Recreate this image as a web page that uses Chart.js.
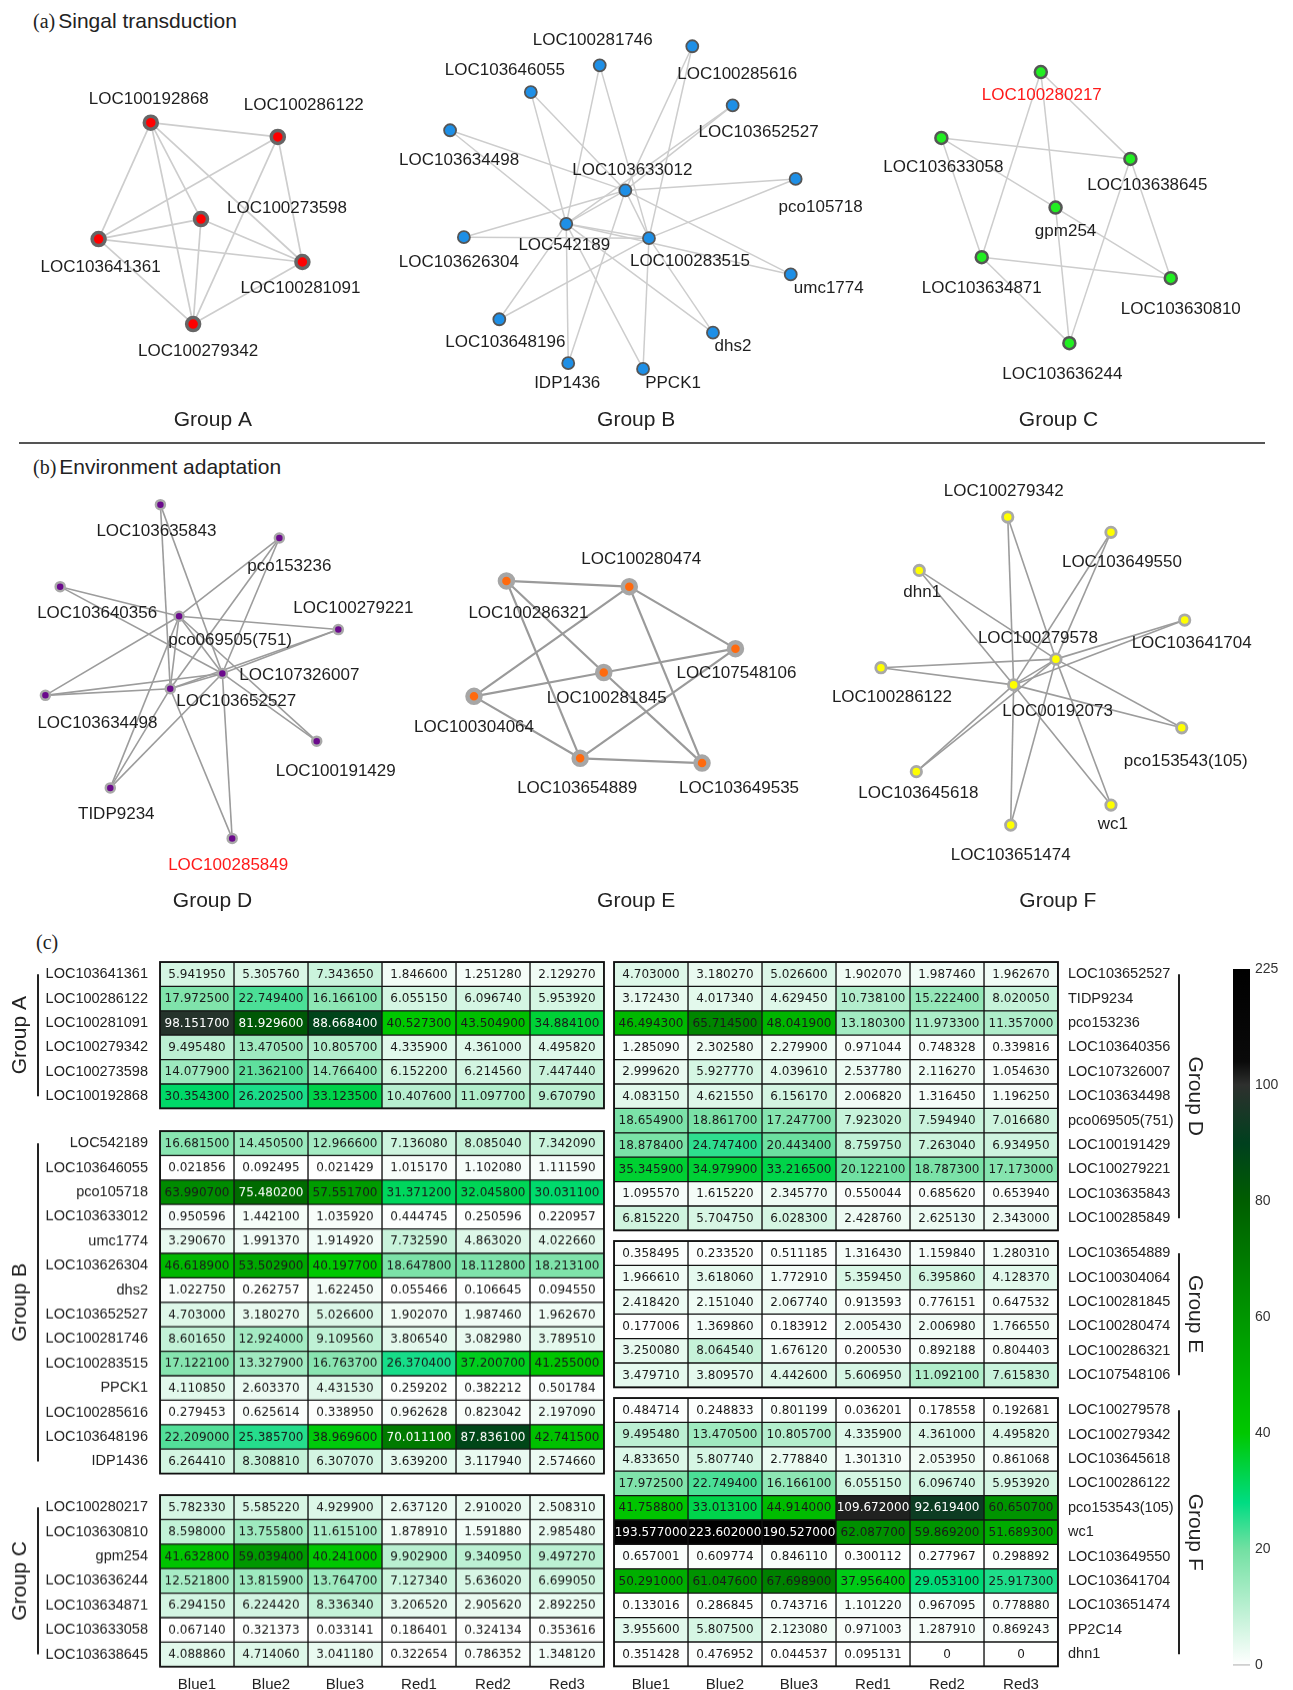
<!DOCTYPE html>
<html>
<head>
<meta charset="utf-8">
<script src="https://cdn.jsdelivr.net/npm/chart.js@4.4.1/dist/chart.umd.min.js"></script>
<style>
  body { margin: 0; background: #fff; }
  #page { position: relative; width: 1293px; height: 1690px; overflow: hidden; font-family: "Liberation Sans", Arial, sans-serif; color: #222; }
  .box { position: absolute; }
  .ttl { position: absolute; font-size: 21px; white-space: nowrap; line-height: 1; }
  .ttl span { font-family: "Liberation Serif", serif; font-size: 20px; margin-right: 3px; }
  #sep { position: absolute; left: 19px; top: 442px; width: 1246px; height: 2px; background: #555; }
</style>
</head>
<body>
<div id="page">
  <div class="ttl" style="left:33px;top:10px"><span>(a)</span>Singal transduction</div>
  <div id="sep"></div>
  <div class="ttl" style="left:33px;top:456px"><span>(b)</span>Environment adaptation</div>
  <div class="ttl" style="left:36px;top:931px"><span>(c)</span></div>

  <div class="box" style="left:0;top:0;width:1293px;height:440px"><canvas id="netTop"></canvas></div>
  <div class="box" style="left:0;top:445px;width:1293px;height:475px"><canvas id="netBottom"></canvas></div>

  <div class="box" id="bA"><canvas id="hA"></canvas></div>
  <div class="box" id="bB"><canvas id="hB"></canvas></div>
  <div class="box" id="bC"><canvas id="hC"></canvas></div>
  <div class="box" id="bD"><canvas id="hD"></canvas></div>
  <div class="box" id="bE"><canvas id="hE"></canvas></div>
  <div class="box" id="bF"><canvas id="hF"></canvas></div>
  <div class="box" style="left:1225px;top:960px;width:68px;height:715px"><canvas id="cbar"></canvas></div>
</div>

<script>
// ---- heatmap data (FPKM values) ----
const colNames = ['Blue1', 'Blue2', 'Blue3', 'Red1', 'Red2', 'Red3'];

const genesA = ['LOC103641361', 'LOC100286122', 'LOC100281091', 'LOC100279342', 'LOC100273598', 'LOC100192868'];
const exprA = [
  [5.941950, 5.305760, 7.343650, 1.846600, 1.251280, 2.129270],
  [17.972500, 22.749400, 16.166100, 6.055150, 6.096740, 5.953920],
  [98.151700, 81.929600, 88.668400, 40.527300, 43.504900, 34.884100],
  [9.495480, 13.470500, 10.805700, 4.335900, 4.361000, 4.495820],
  [14.077900, 21.362100, 14.766400, 6.152200, 6.214560, 7.447440],
  [30.354300, 26.202500, 33.123500, 10.407600, 11.097700, 9.670790]
];

const genesB = ['LOC542189', 'LOC103646055', 'pco105718', 'LOC103633012', 'umc1774', 'LOC103626304', 'dhs2',
  'LOC103652527', 'LOC100281746', 'LOC100283515', 'PPCK1', 'LOC100285616', 'LOC103648196', 'IDP1436'];
const exprB = [
  [16.681500, 14.450500, 12.966600, 7.136080, 8.085040, 7.342090],
  [0.021856, 0.092495, 0.021429, 1.015170, 1.102080, 1.111590],
  [63.990700, 75.480200, 57.551700, 31.371200, 32.045800, 30.031100],
  [0.950596, 1.442100, 1.035920, 0.444745, 0.250596, 0.220957],
  [3.290670, 1.991370, 1.914920, 7.732590, 4.863020, 4.022660],
  [46.618900, 53.502900, 40.197700, 18.647800, 18.112800, 18.213100],
  [1.022750, 0.262757, 1.622450, 0.055466, 0.106645, 0.094550],
  [4.703000, 3.180270, 5.026600, 1.902070, 1.987460, 1.962670],
  [8.601650, 12.924000, 9.109560, 3.806540, 3.082980, 3.789510],
  [17.122100, 13.327900, 16.763700, 26.370400, 37.200700, 41.255000],
  [4.110850, 2.603370, 4.431530, 0.259202, 0.382212, 0.501784],
  [0.279453, 0.625614, 0.338950, 0.962628, 0.823042, 2.197090],
  [22.209000, 25.385700, 38.969600, 70.011100, 87.836100, 42.741500],
  [6.264410, 8.308810, 6.307070, 3.639200, 3.117940, 2.574660]
];

const genesC = ['LOC100280217', 'LOC103630810', 'gpm254', 'LOC103636244', 'LOC103634871', 'LOC103633058', 'LOC103638645'];
const exprC = [
  [5.782330, 5.585220, 4.929900, 2.637120, 2.910020, 2.508310],
  [8.598000, 13.755800, 11.615100, 1.878910, 1.591880, 2.985480],
  [41.632800, 59.039400, 40.241000, 9.902900, 9.340950, 9.497270],
  [12.521800, 13.815900, 13.764700, 7.127340, 5.636020, 6.699050],
  [6.294150, 6.224420, 8.336340, 3.206520, 2.905620, 2.892250],
  [0.067140, 0.321373, 0.033141, 0.186401, 0.324134, 0.353616],
  [4.088860, 4.714060, 3.041180, 0.322654, 0.786352, 1.348120]
];

const genesD = ['LOC103652527', 'TIDP9234', 'pco153236', 'LOC103640356', 'LOC107326007', 'LOC103634498',
  'pco069505(751)', 'LOC100191429', 'LOC100279221', 'LOC103635843', 'LOC100285849'];
const exprD = [
  [4.703000, 3.180270, 5.026600, 1.902070, 1.987460, 1.962670],
  [3.172430, 4.017340, 4.629450, 10.738100, 15.222400, 8.020050],
  [46.494300, 65.714500, 48.041900, 13.180300, 11.973300, 11.357000],
  [1.285090, 2.302580, 2.279900, 0.971044, 0.748328, 0.339816],
  [2.999620, 5.927770, 4.039610, 2.537780, 2.116270, 1.054630],
  [4.083150, 4.621550, 6.156170, 2.006820, 1.316450, 1.196250],
  [18.654900, 18.861700, 17.247700, 7.923020, 7.594940, 7.016680],
  [18.878400, 24.747400, 20.443400, 8.759750, 7.263040, 6.934950],
  [35.345900, 34.979900, 33.216500, 20.122100, 18.787300, 17.173000],
  [1.095570, 1.615220, 2.345770, 0.550044, 0.685620, 0.653940],
  [6.815220, 5.704750, 6.028300, 2.428760, 2.625130, 2.343000]
];

const genesE = ['LOC103654889', 'LOC100304064', 'LOC100281845', 'LOC100280474', 'LOC100286321', 'LOC107548106'];
const exprE = [
  [0.358495, 0.233520, 0.511185, 1.316430, 1.159840, 1.280310],
  [1.966610, 3.618060, 1.772910, 5.359450, 6.395860, 4.128370],
  [2.418420, 2.151040, 2.067740, 0.913593, 0.776151, 0.647532],
  [0.177006, 1.369860, 0.183912, 2.005430, 2.006980, 1.766550],
  [3.250080, 8.064540, 1.676120, 0.200530, 0.892188, 0.804403],
  [3.479710, 3.809570, 4.442600, 5.606950, 11.092100, 7.615830]
];

const genesF = ['LOC100279578', 'LOC100279342', 'LOC103645618', 'LOC100286122', 'pco153543(105)', 'wc1',
  'LOC103649550', 'LOC103641704', 'LOC103651474', 'PP2C14', 'dhn1'];
const exprF = [
  [0.484714, 0.248833, 0.801199, 0.036201, 0.178558, 0.192681],
  [9.495480, 13.470500, 10.805700, 4.335900, 4.361000, 4.495820],
  [4.833650, 5.807740, 2.778840, 1.301310, 2.053950, 0.861068],
  [17.972500, 22.749400, 16.166100, 6.055150, 6.096740, 5.953920],
  [41.758800, 33.013100, 44.914000, 109.672000, 92.619400, 60.650700],
  [193.577000, 223.602000, 190.527000, 62.087700, 59.869200, 51.689300],
  [0.657001, 0.609774, 0.846110, 0.300112, 0.277967, 0.298892],
  [50.291000, 61.047600, 67.698900, 37.956400, 29.053100, 25.917300],
  [0.133016, 0.286845, 0.743716, 1.101220, 0.967095, 0.778880],
  [3.955600, 5.807500, 2.123080, 0.971003, 1.287910, 0.869243],
  [0.351428, 0.476952, 0.044537, 0.095131, 0, 0]
];

// colour bar ticks
const barTickVals = [0, 20, 40, 60, 80, 100, 225];

// ---- network data ----
const nodesA = ['LOC100192868', 'LOC100286122', 'LOC100273598', 'LOC103641361', 'LOC100281091', 'LOC100279342'];
const edgesA = [[0,1],[0,3],[0,2],[0,5],[0,4],[1,3],[1,5],[1,4],[3,2],[3,4],[3,5],[2,4],[2,5],[5,4]];
const nodesB = ['LOC100281746', 'LOC103646055', 'LOC100285616', 'LOC103652527', 'LOC103634498', 'LOC103633012',
  'pco105718', 'LOC542189', 'LOC100283515', 'LOC103626304', 'umc1774', 'LOC103648196', 'dhs2', 'IDP1436', 'PPCK1'];
const edgesB = [[0,7],[0,8],[1,5],[1,7],[4,5],[4,7],[9,5],[9,8],[11,7],[11,8],[13,7],[13,5],[14,8],[14,7],
  [12,8],[12,7],[10,5],[10,7],[6,5],[6,8],[3,5],[3,7],[2,5],[2,8],[5,7],[5,8],[7,8]];
const nodesC = ['LOC100280217', 'LOC103633058', 'LOC103638645', 'gpm254', 'LOC103634871', 'LOC103630810', 'LOC103636244'];
const edgesC = [[0,2],[0,4],[0,3],[1,2],[1,4],[1,3],[3,5],[3,6],[4,5],[4,6],[2,6],[2,5]];
const nodesD = ['LOC103635843', 'pco153236', 'LOC103640356', 'pco069505(751)', 'LOC100279221', 'LOC107326007',
  'LOC103652527', 'LOC103634498', 'LOC100191429', 'TIDP9234', 'LOC100285849'];
const edgesD = [[0,6],[0,5],[1,3],[1,6],[1,5],[2,3],[2,5],[3,8],[5,8],[4,3],[4,6],[4,5],[7,3],[7,6],[7,5],
  [9,3],[9,6],[9,5],[10,5],[10,6],[3,6],[3,5],[6,5]];
const nodesE = ['LOC100286321', 'LOC100280474', 'LOC100281845', 'LOC100304064', 'LOC103654889', 'LOC107548106', 'LOC103649535'];
const edgesE = [[0,1],[0,2],[0,4],[1,3],[1,5],[1,6],[3,2],[3,4],[2,5],[2,6],[4,6],[4,5]];
const nodesF = ['LOC100279342', 'LOC103649550', 'dhn1', 'LOC103641704', 'LOC100279578', 'LOC100286122',
  'LOC00192073', 'pco153543(105)', 'LOC103645618', 'wc1', 'LOC103651474'];
const edgesF = [[0,6],[0,4],[1,6],[1,4],[2,6],[2,4],[3,6],[3,4],[5,4],[5,6],[7,6],[7,4],[8,6],[8,4],[9,6],[9,4],[10,6],[10,4],[4,6]];
const highlighted = ['LOC100280217', 'LOC100285849'];

// layout of the network drawings (page units) and label offsets
const layA = [[143,118],[272,133],[194,219],[90,240],[297,264],[186,329]];
const offA = [[-2,-23],[26,-32],[86,-11],[2,28],[-2,26],[5,27]];
const layB = [[599,58],[529,86],[693,38],[734,100],[447,126],[625,189],[798,177],[565,224],[649,239],[461,238],[793,277],[497,324],[714,338],[567,370],[643,376]];
const offB = [[-7,-25],[-26,-22],[45,28],[26,27],[9,30],[7,-20],[25,28],[-2,21],[41,23],[-5,25],[38,14],[6,23],[20,14],[-1,20],[30,14]];
const layC = [[1047,65],[946,134],[1138,156],[1062,207],[987,259],[1179,281],[1076,349]];
const offC = [[1,23],[2,29],[17,26],[10,24],[0,31],[10,31],[-7,31]];
const layD = [[152,496],[273,531],[50,582],[171,613],[333,627],[215,673],[162,689],[35,696],[311,744],[101,793],[225,846]];
const offD = [[-4,27],[10,28],[37,27],[51,24],[15,-21],[77,2],[66,13],[52,28],[19,30],[6,26],[-4,27]];
const layE = [[504,576],[629,582],[603,672],[471,697],[579,762],[737,647],[703,767]];
const offE = [[22,32],[12,-27],[3,26],[0,31],[-3,30],[1,25],[37,25]];
const layF = [[1014,509],[1119,525],[924,565],[1194,617],[1063,658],[885,667],[1020,685],[1191,730],[921,776],[1119,811],[1017,832]];
const offF = [[-4,-26],[11,30],[3,22],[7,23],[-18,-21],[11,30],[44,26],[4,34],[2,22],[2,19],[0,30]];

// ---- colours ----
const colorStops = [[0,'#ffffff'],[20,'#72e0a2'],[28,'#00dc82'],[40,'#00c800'],[60,'#009600'],
  [80,'#005e00'],[90,'#00401e'],[100,'#2e302e'],[125,'#0a0a0a'],[225,'#000000']];

function hexRgb(h) { return [1,3,5].map(i => parseInt(h.substr(i, 2), 16)); }
function heatColor(v) {
  for (let i = 0; i < colorStops.length - 1; i++) {
    const [v0, c0] = colorStops[i], [v1, c1] = colorStops[i + 1];
    if (v <= v1) {
      const t = (v - v0) / (v1 - v0), a = hexRgb(c0), b = hexRgb(c1);
      return 'rgb(' + a.map((x, k) => Math.round(x + (b[k] - x) * t)).join(',') + ')';
    }
  }
  return colorStops[colorStops.length - 1][1];
}
function valToPos(v) {
  for (let i = 0; i < barTickVals.length - 1; i++) {
    if (v <= barTickVals[i + 1]) return i + (v - barTickVals[i]) / (barTickVals[i + 1] - barTickVals[i]);
  }
  return barTickVals.length - 1;
}

const FONT = '"Liberation Sans", Arial, sans-serif';
Chart.defaults.font.family = FONT;
Chart.defaults.animation = false;

// ---- network charts ----
const netPlugin = {
  id: 'net',
  beforeDatasetsDraw(chart) {
    const ctx = chart.ctx;
    ctx.save();
    chart.data.datasets.forEach((ds, i) => {
      const pts = chart.getDatasetMeta(i).data;
      ctx.strokeStyle = ds.edgeColor;
      ctx.lineWidth = ds.edgeWidth;
      ds.edges.forEach(([a, b]) => {
        ctx.beginPath();
        ctx.moveTo(pts[a].x, pts[a].y);
        ctx.lineTo(pts[b].x, pts[b].y);
        ctx.stroke();
      });
    });
    ctx.restore();
  },
  afterDatasetsDraw(chart) {
    const ctx = chart.ctx;
    const { x: xs, y: ys } = chart.scales;
    ctx.save();
    ctx.textAlign = 'center';
    ctx.textBaseline = 'middle';
    chart.data.datasets.forEach((ds, i) => {
      const pts = chart.getDatasetMeta(i).data;
      ctx.font = '17px ' + FONT;
      ds.names.forEach((n, k) => {
        ctx.fillStyle = highlighted.includes(n) && ds.markRed ? '#ff1a1a' : '#1e1e1e';
        ctx.fillText(n, pts[k].x + ds.offsets[k][0], pts[k].y + ds.offsets[k][1]);
      });
      ctx.font = '21px ' + FONT;
      ctx.fillStyle = '#222';
      ctx.fillText(ds.label, xs.getPixelForValue(ds.titleAt[0]), ys.getPixelForValue(ds.titleAt[1]));
    });
    ctx.restore();
  }
};

function netDataset(label, names, lay, off, edges, st, titleAt, markRed) {
  return {
    label, names, edges, offsets: off, titleAt, markRed,
    data: lay.map(p => ({ x: p[0], y: p[1] })),
    pointRadius: st.r, pointBackgroundColor: st.fill, pointBorderColor: st.ring, pointBorderWidth: st.ringW,
    edgeColor: st.edge, edgeWidth: st.edgeW
  };
}

function netChart(id, yMin, yMax, datasets) {
  return new Chart(document.getElementById(id), {
    type: 'scatter',
    data: { datasets },
    options: {
      responsive: true, maintainAspectRatio: false, events: [],
      layout: { padding: 0 },
      plugins: { legend: { display: false }, tooltip: { enabled: false } },
      scales: {
        x: { type: 'linear', min: 0, max: 1293, display: false },
        y: { type: 'linear', min: yMin, max: yMax, reverse: true, display: false }
      }
    },
    plugins: [netPlugin]
  });
}

netChart('netTop', 0, 440, [
  netDataset('Group A', nodesA, layA, offA, edgesA, { r: 6.5, fill: '#ff0000', ring: '#666', ringW: 3.5, edge: '#cdcdcd', edgeW: 1.7 }, [206, 430], false),
  netDataset('Group B', nodesB, layB, offB, edgesB, { r: 6, fill: '#1e8fe6', ring: '#555', ringW: 1.8, edge: '#cdcdcd', edgeW: 1.5 }, [636, 430], false),
  netDataset('Group C', nodesC, layC, offC, edgesC, { r: 6, fill: '#22ee22', ring: '#555', ringW: 2.5, edge: '#cdcdcd', edgeW: 1.5 }, [1065, 430], true)
]);
netChart('netBottom', 445, 920, [
  netDataset('Group D', nodesD, layD, offD, edgesD, { r: 4.5, fill: '#6b0a8c', ring: '#a8a8a8', ringW: 2.5, edge: '#9c9c9c', edgeW: 1.6 }, [205, 912], true),
  netDataset('Group E', nodesE, layE, offE, edgesE, { r: 6.5, fill: '#ff6a0e', ring: '#a6a6a6', ringW: 4.5, edge: '#9a9a9a', edgeW: 2.2 }, [636, 912], false),
  netDataset('Group F', nodesF, layF, offF, edgesF, { r: 5.2, fill: '#ffff00', ring: '#a8a8a8', ringW: 2.8, edge: '#9c9c9c', edgeW: 1.6 }, [1065, 912], false)
]);

// ---- heatmap charts ----
const ROWH = 24.4;

const cellText = {
  id: 'cellText',
  afterDatasetsDraw(chart) {
    const ctx = chart.ctx, ca = chart.chartArea;
    ctx.save();
    ctx.font = '12px "DejaVu Sans", sans-serif';
    ctx.textAlign = 'center';
    ctx.textBaseline = 'middle';
    chart.data.datasets.forEach((ds, i) => {
      chart.getDatasetMeta(i).data.forEach((bar, k) => {
        const p = bar.getProps(['x', 'y', 'base'], true);
        const v = ds.vals[k];
        ctx.fillStyle = v > 68 ? '#ffffff' : '#1a1a1a';
        ctx.fillText(v === 0 ? '0' : v.toFixed(6), (p.x + p.base) / 2, p.y + 0.5);
      });
    });
    ctx.strokeStyle = '#111';
    ctx.lineWidth = 1.8;
    ctx.strokeRect(ca.left, ca.top, ca.right - ca.left, ca.bottom - ca.top);
    ctx.restore();
  }
};

const bracket = {
  id: 'bracket',
  afterDraw(chart, args, opts) {
    const ctx = chart.ctx, ys = chart.scales.y, ca = chart.chartArea;
    const n = chart.data.labels.length;
    ctx.save();
    ctx.strokeStyle = '#222';
    ctx.lineWidth = 2;
    ctx.beginPath();
    ctx.moveTo(opts.x, ys.getPixelForValue(0));
    ctx.lineTo(opts.x, ys.getPixelForValue(n - 1));
    ctx.stroke();
    ctx.translate(opts.textX, (ca.top + ca.bottom) / 2);
    ctx.rotate(opts.rot * Math.PI / 2);
    ctx.font = '21px ' + FONT;
    ctx.fillStyle = '#222';
    ctx.textAlign = 'center';
    ctx.textBaseline = 'middle';
    ctx.fillText(opts.title, 0, 0);
    ctx.restore();
  }
};

function heatChart(key, genes, vals, side, title, top, showCols) {
  const left = side === 'left';
  const box = document.getElementById('b' + key);
  const h = genes.length * ROWH + 6 + (showCols ? 28 : 6);
  Object.assign(box.style, {
    left: (left ? 0 : 606) + 'px', top: (top - 6) + 'px',
    width: (left ? 612 : 614) + 'px', height: h + 'px'
  });
  return new Chart(document.getElementById('h' + key), {
    type: 'bar',
    data: {
      labels: genes,
      datasets: colNames.map((c, j) => ({
        label: c,
        vals: vals.map(r => r[j]),
        data: genes.map(() => 1),
        backgroundColor: vals.map(r => heatColor(r[j])),
        borderColor: '#141414', borderWidth: 1, borderSkipped: false,
        barPercentage: 1, categoryPercentage: 1, clip: false
      }))
    },
    options: {
      indexAxis: 'y', responsive: true, maintainAspectRatio: false, events: [],
      layout: { padding: { top: 6, bottom: showCols ? 0 : 6, left: left ? 0 : 8, right: left ? 8 : 0 } },
      plugins: {
        legend: { display: false }, tooltip: { enabled: false },
        bracket: left ? { x: 38, textX: 20, rot: -1, title } : { x: 573, textX: 589, rot: 1, title }
      },
      scales: {
        x: {
          type: 'linear', stacked: true, min: 0, max: 6, display: showCols,
          grid: { display: false, drawTicks: false }, border: { display: false },
          afterBuildTicks: s => { s.ticks = colNames.map((c, i) => ({ value: i + 0.5 })); },
          afterFit: s => { s.height = showCols ? 28 : 0; s.paddingLeft = 0; s.paddingRight = 0; },
          ticks: { callback: (v, i) => colNames[i], font: { size: 15 }, color: '#222', padding: 9, maxRotation: 0, autoSkip: false }
        },
        y: {
          type: 'category', stacked: true, position: side,
          grid: { display: false, drawTicks: false }, border: { display: false },
          afterFit: s => { s.width = left ? 160 : 162; s.paddingTop = 0; s.paddingBottom = 0; },
          ticks: { font: { size: 14.5 }, color: '#222', padding: left ? 12 : 10, autoSkip: false }
        }
      }
    },
    plugins: [cellText, bracket]
  });
}

heatChart('A', genesA, exprA, 'left', 'Group A', 962, false);
heatChart('B', genesB, exprB, 'left', 'Group B', 1131, false);
heatChart('C', genesC, exprC, 'left', 'Group C', 1495, true);
heatChart('D', genesD, exprD, 'right', 'Group D', 962, false);
heatChart('E', genesE, exprE, 'right', 'Group E', 1241, false);
heatChart('F', genesF, exprF, 'right', 'Group F', 1398, true);

// ---- colour bar ----
function barGradient(chart) {
  const ys = chart.scales.y;
  if (!chart.chartArea || !ys) return '#888';
  const top = barTickVals.length - 1;
  const g = chart.ctx.createLinearGradient(0, ys.getPixelForValue(0), 0, ys.getPixelForValue(top));
  colorStops.forEach(([v, c]) => g.addColorStop(valToPos(v) / top, c));
  return g;
}

new Chart(document.getElementById('cbar'), {
  type: 'bar',
  data: { labels: [''], datasets: [{ data: [[0, barTickVals.length - 1]], backgroundColor: ctx => barGradient(ctx.chart), borderWidth: 0, barPercentage: 1, categoryPercentage: 1 }] },
  options: {
    responsive: true, maintainAspectRatio: false, events: [],
    layout: { padding: { left: 8, top: 9, bottom: 10, right: 0 } },
    plugins: { legend: { display: false }, tooltip: { enabled: false } },
    scales: {
      x: { display: false },
      y: {
        position: 'right', min: 0, max: barTickVals.length - 1,
        grid: { drawTicks: false, color: c => c.index === 0 ? '#444' : 'rgba(0,0,0,0)', lineWidth: 1.2 },
        border: { display: false },
        afterFit: s => { s.width = 43; s.paddingTop = 0; s.paddingBottom = 0; },
        ticks: { stepSize: 1, padding: 5, font: { size: 14 }, color: '#333', callback: v => String(barTickVals[v]) }
      }
    }
  }
});
</script>
</body>
</html>
